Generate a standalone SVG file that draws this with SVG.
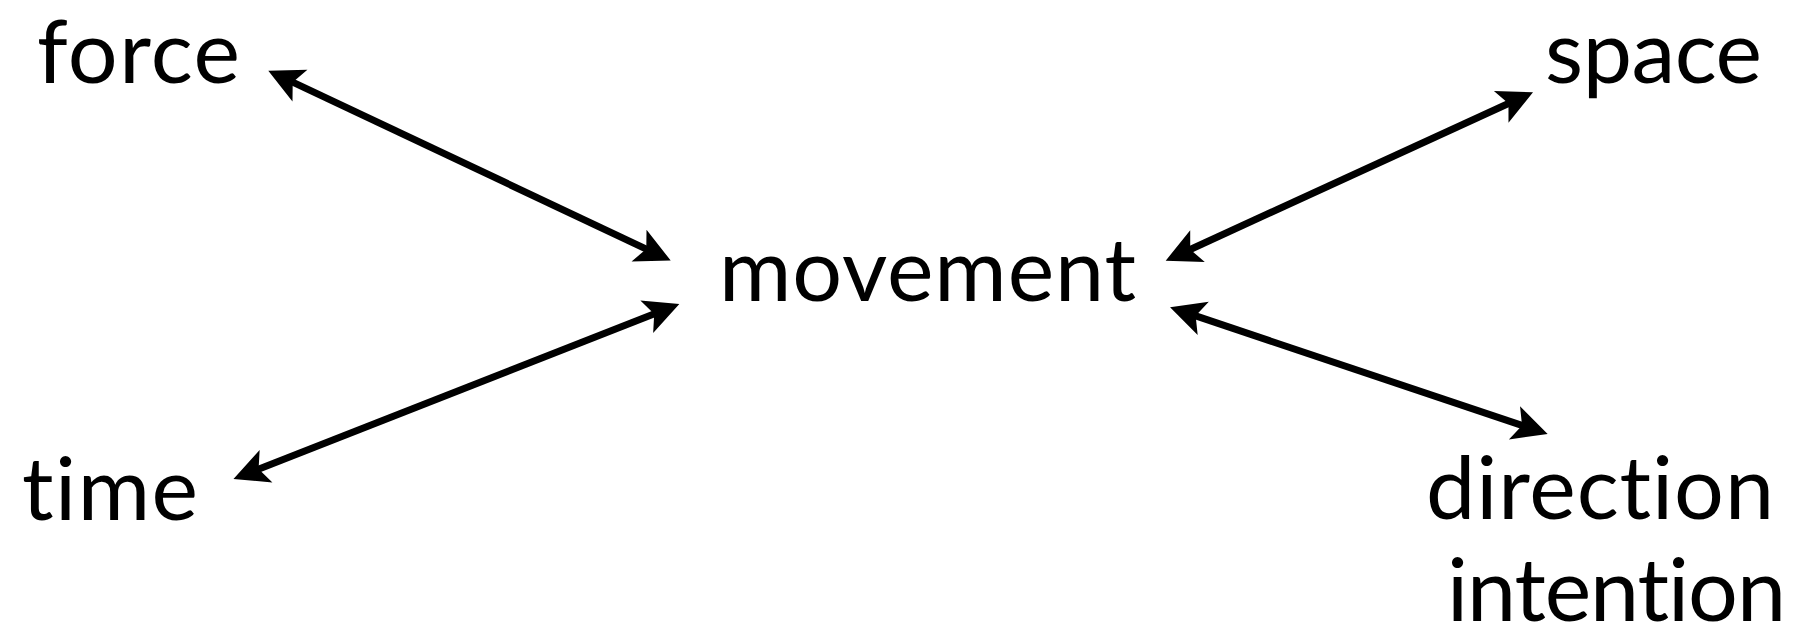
<svg xmlns="http://www.w3.org/2000/svg" width="1802" height="634" viewBox="0 0 1802 634">
<style>
.lbl{font-family:Lato,"Open Sans","Liberation Sans",sans-serif;font-size:88px;fill:#000;font-variant-ligatures:none;font-feature-settings:"liga" 0,"clig" 0}
.conn{stroke:#000;stroke-width:7;fill:none;marker-start:url(#ah);marker-end:url(#ah)}
</style>
<defs>
<marker id="ah" markerUnits="userSpaceOnUse" orient="auto-start-reverse" refX="0" refY="0" markerWidth="40" markerHeight="40" overflow="visible">
<path d="M24,0 L-11,-17.5 L-3,0 L-11,17.5 Z" fill="#000"/>
</marker>
</defs>
<rect width="1802" height="634" fill="#fff"/>
<g id="connectors">
<line class="conn" x1="290.0" y1="80.9" x2="649.0" y2="250.3"/>
<line class="conn" x1="255.8" y1="470.2" x2="657.0" y2="312.8"/>
<line class="conn" x1="1187.5" y1="250.7" x2="1511.2" y2="102.3"/>
<line class="conn" x1="1192.8" y1="314.9" x2="1524.9" y2="426.4"/>
</g>
<g id="node-force"><text class="lbl" x="37" y="83" textLength="203">force</text></g>
<g id="node-movement"><text class="lbl" x="719" y="301" textLength="417">movement</text></g>
<g id="node-time"><text class="lbl" x="22" y="520" textLength="176">time</text></g>
<g id="node-space"><text class="lbl" x="1545" y="83" textLength="217">space</text></g>
<g id="node-direction"><text class="lbl" x="1426" y="519" textLength="348">direction</text></g>
<g id="node-intention"><text class="lbl" x="1447" y="621" textLength="339">intention</text></g>
</svg>
